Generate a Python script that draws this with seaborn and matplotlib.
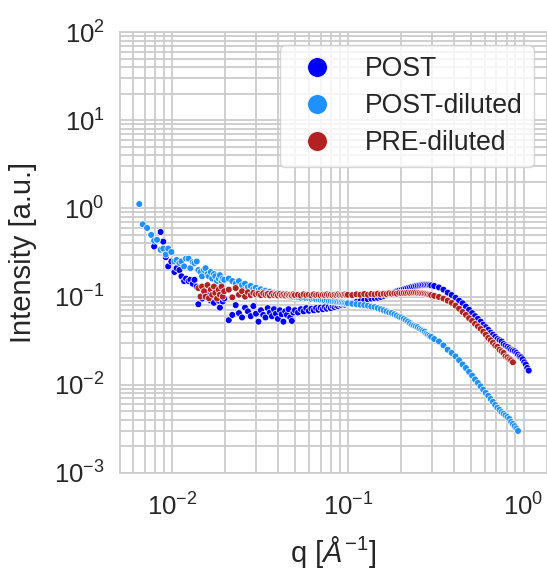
import numpy as np
import pandas as pd
import matplotlib
matplotlib.use("Agg")
import matplotlib.pyplot as plt
import seaborn as sns

nan = np.nan

# scattering vector q [1/Angstrom]
q = [
    0.0065, 0.0068, 0.0072, 0.0076, 0.0079, 0.0082, 0.0086, 0.0089, 0.0092, 0.0095,
    0.0099, 0.0103, 0.0106, 0.0110, 0.0113, 0.0117, 0.0120, 0.0124, 0.0127, 0.0131,
    0.0134, 0.0138, 0.0141, 0.0145, 0.0148, 0.0152, 0.0155, 0.0159, 0.0162, 0.0166,
    0.0169, 0.0173, 0.0176, 0.0180, 0.0184, 0.0187, 0.0191, 0.0194, 0.0198,
    0.021, 0.022, 0.023, 0.024, 0.025, 0.026, 0.027, 0.028, 0.029, 0.030,
    0.031, 0.032, 0.033, 0.034, 0.035, 0.036, 0.037, 0.038, 0.039, 0.040,
    0.041, 0.042, 0.043, 0.044, 0.045, 0.046, 0.047, 0.048, 0.049, 0.050,
    0.052, 0.054, 0.056, 0.058, 0.060, 0.062, 0.064, 0.066, 0.068, 0.070,
    0.072, 0.074, 0.076, 0.078, 0.080, 0.082, 0.084, 0.086, 0.088, 0.090,
    0.092, 0.094, 0.096, 0.098, 0.100,
    0.106, 0.112, 0.118, 0.124, 0.130, 0.136, 0.142, 0.148, 0.154, 0.160,
    0.166, 0.172, 0.178, 0.184, 0.190, 0.196, 0.202, 0.208, 0.214, 0.220,
    0.226, 0.232, 0.238, 0.244, 0.250, 0.256, 0.262, 0.268, 0.274, 0.280,
    0.286, 0.292, 0.298,
    0.31, 0.33, 0.35, 0.37, 0.39, 0.41, 0.43, 0.45, 0.47, 0.49,
    0.51, 0.53, 0.55, 0.57, 0.59, 0.61, 0.63, 0.65, 0.67, 0.69,
    0.71, 0.73, 0.75, 0.77, 0.79, 0.81, 0.83, 0.85, 0.87, 0.89,
    0.91, 0.93, 0.95, 0.97, 0.99, 1.01, 1.03, 1.05, 1.07,
]

post = [
    nan, nan, nan, nan, 0.37, nan, 0.54, 0.42, 0.28, 0.22,
    0.25, 0.19, 0.21, 0.20, 0.17, 0.15, 0.16, 0.15, 0.155, 0.14,
    0.155, 0.13, 0.082, 0.128, 0.095, 0.12, 0.11, 0.10, 0.115, 0.09,
    0.12, 0.085, 0.10, 0.11, 0.09, 0.075, 0.105, 0.088, 0.095,
    0.054, 0.062, 0.08, 0.065, 0.058, 0.075, 0.068, 0.06, 0.078, 0.064,
    0.052, 0.07, 0.062, 0.058, 0.074, 0.066, 0.06, 0.072, 0.064, 0.056,
    0.07, 0.063, 0.052, 0.068, 0.062, 0.072, 0.058, 0.053, 0.066, 0.07,
    0.066, 0.072, 0.068, 0.074, 0.069, 0.073, 0.07, 0.074, 0.071, 0.075,
    0.072, 0.076, 0.073, 0.077, 0.074, 0.078, 0.076, 0.079, 0.078, 0.081,
    0.08, 0.082, 0.081, 0.084, 0.083,
    0.085, 0.087, 0.089, 0.091, 0.093, 0.095, 0.096, 0.097, 0.099, 0.102,
    0.105, 0.108, 0.11, 0.112, 0.115, 0.117, 0.119, 0.121, 0.123, 0.125,
    0.127, 0.129, 0.13, 0.132, 0.133, 0.134, 0.135, 0.136, 0.136, 0.136,
    0.136, 0.135, 0.134,
    0.132, 0.127, 0.12, 0.111, 0.104, 0.097, 0.09, 0.084, 0.077, 0.071,
    0.065, 0.06, 0.056, 0.052, 0.048, 0.045, 0.042, 0.039, 0.037, 0.035,
    0.033, 0.032, 0.031, 0.029, 0.028, 0.027, 0.026, 0.025, 0.0245, 0.024,
    0.023, 0.022, 0.021, 0.0205, 0.0195, 0.018, 0.017, 0.0155, 0.0145,
]

post_diluted = [
    1.12, 0.66, 0.60, 0.50, 0.43, 0.44, 0.34, 0.35, 0.30, 0.35,
    0.32, 0.25, 0.26, 0.24, 0.25, 0.22, 0.27, 0.27, 0.21, 0.245,
    0.24, 0.25, 0.20, 0.19, 0.17, 0.20, 0.21, 0.18, 0.17, 0.19,
    0.16, 0.18, 0.17, 0.15, 0.16, 0.175, 0.15, 0.16, 0.155,
    0.16, 0.15, 0.14, 0.15, 0.135, 0.14, 0.128, 0.132, 0.122, 0.126,
    0.118, 0.121, 0.115, 0.117, 0.112, 0.114, 0.109, 0.111, 0.107, 0.109,
    0.105, 0.107, 0.103, 0.105, 0.101, 0.103, 0.1, 0.102, 0.099, 0.1,
    0.099, 0.097, 0.098, 0.096, 0.096, 0.094, 0.095, 0.093, 0.093, 0.092,
    0.092, 0.090, 0.091, 0.089, 0.089, 0.088, 0.088, 0.087, 0.087, 0.086,
    0.086, 0.085, 0.085, 0.084, 0.084,
    0.083, 0.082, 0.081, 0.080, 0.079, 0.077, 0.076, 0.074, 0.072, 0.070,
    0.068, 0.066, 0.065, 0.063, 0.061, 0.059, 0.058, 0.056, 0.054, 0.052,
    0.050, 0.048, 0.047, 0.046, 0.045, 0.043, 0.042, 0.041, 0.040, 0.038,
    0.037, 0.036, 0.035,
    0.033, 0.031, 0.028, 0.025, 0.023, 0.021, 0.019, 0.017, 0.0155, 0.014,
    0.0127, 0.0115, 0.0105, 0.0096, 0.0088, 0.0081, 0.0075, 0.0069, 0.0064, 0.0059,
    0.0055, 0.0052, 0.0049, 0.0047, 0.0045, 0.0043, 0.0041, 0.0038, 0.0036, 0.0034,
    0.0032, 0.003, nan, nan, nan, nan, nan, nan, nan,
]

pre_diluted = [
    nan, nan, nan, nan, nan, nan, nan, nan, nan, nan,
    nan, nan, nan, nan, nan, nan, nan, nan, nan, nan,
    nan, nan, 0.125, 0.10, 0.13, 0.115, 0.10, 0.135, 0.096, 0.12,
    0.105, 0.13, 0.11, 0.095, 0.12, 0.105, 0.13, 0.10, 0.115,
    0.12, 0.098, 0.125, 0.105, 0.115, 0.1, 0.112, 0.104, 0.11, 0.106,
    0.108, 0.104, 0.109, 0.105, 0.107, 0.103, 0.108, 0.104, 0.106, 0.103,
    0.107, 0.104, 0.106, 0.103, 0.106, 0.104, 0.105, 0.103, 0.106, 0.104,
    0.105, 0.103, 0.106, 0.104, 0.105, 0.103, 0.106, 0.104, 0.105, 0.103,
    0.105, 0.104, 0.106, 0.104, 0.105, 0.103, 0.105, 0.104, 0.106, 0.104,
    0.105, 0.104, 0.106, 0.104, 0.105,
    0.104, 0.106, 0.105, 0.107, 0.105, 0.107, 0.106, 0.108, 0.106, 0.108,
    0.107, 0.109, 0.108, 0.109, 0.108, 0.110, 0.109, 0.110, 0.110, 0.111,
    0.110, 0.111, 0.111, 0.111, 0.110, 0.110, 0.109, 0.109, 0.108, 0.107,
    0.106, 0.105, 0.104,
    0.102, 0.099, 0.095, 0.09, 0.085, 0.079, 0.073, 0.067, 0.062, 0.057,
    0.053, 0.049, 0.046, 0.043, 0.04, 0.037, 0.034, 0.032, 0.03, 0.028,
    0.027, 0.025, 0.024, 0.023, 0.021, 0.0205, 0.0195, 0.019, 0.018, nan,
    nan, nan, nan, nan, nan, nan, nan, nan, nan,
]

series_names = ["POST", "POST-diluted", "PRE-diluted"]
series_colors = ["blue", "dodgerblue", "firebrick"]

sns.set_theme(style="whitegrid")
plt.rcParams["font.family"] = ["Liberation Sans", "DejaVu Sans"]
plt.rcParams["mathtext.fontset"] = "custom"
plt.rcParams["mathtext.rm"] = "Liberation Sans"
plt.rcParams["mathtext.it"] = "Liberation Sans:italic"
plt.rcParams["mathtext.bf"] = "Liberation Sans:bold"

frames = []
for name, vals in zip(series_names, [post, post_diluted, pre_diluted]):
    frames.append(pd.DataFrame({"q": q, "I": vals, "sample": name}))
df = pd.concat(frames, ignore_index=True).dropna()

fig = plt.figure(figsize=(5.47, 5.69), dpi=100)
ax = fig.add_axes([120 / 547, 96 / 569, 427 / 547, 441 / 569])
sns.scatterplot(data=df, x="q", y="I", hue="sample", hue_order=series_names,
                palette=dict(zip(series_names, series_colors)),
                s=24, edgecolor="white", linewidth=0.5, ax=ax)
ax.set_xscale("log")
ax.set_yscale("log")
ax.set_xlim(0.00505, 1.36)
ax.set_ylim(1e-3, 1e2)
ax.grid(True, which="major", color="#cccccc", linewidth=1.3)
ax.grid(True, which="minor", color="#cccccc", linewidth=1.3)
ax.set_axisbelow(True)
for sp in ax.spines.values():
    sp.set_color("#cccccc")
ax.tick_params(axis="both", which="major", labelsize=18.5)
ax.tick_params(axis="x", which="major", pad=8.5)
ax.tick_params(axis="y", which="major", pad=5)
ax.set_xlabel(r"q [$\AA^{-1}$]", fontsize=21, labelpad=10)
ax.set_ylabel("Intensity [a.u.]", fontsize=21, labelpad=12)

handles, labels = ax.get_legend_handles_labels()
ax.legend(handles, labels, loc="upper right", fontsize=19.2, markerscale=2.9,
          labelspacing=0.42, frameon=True)

fig.savefig("out.png", dpi=100)
